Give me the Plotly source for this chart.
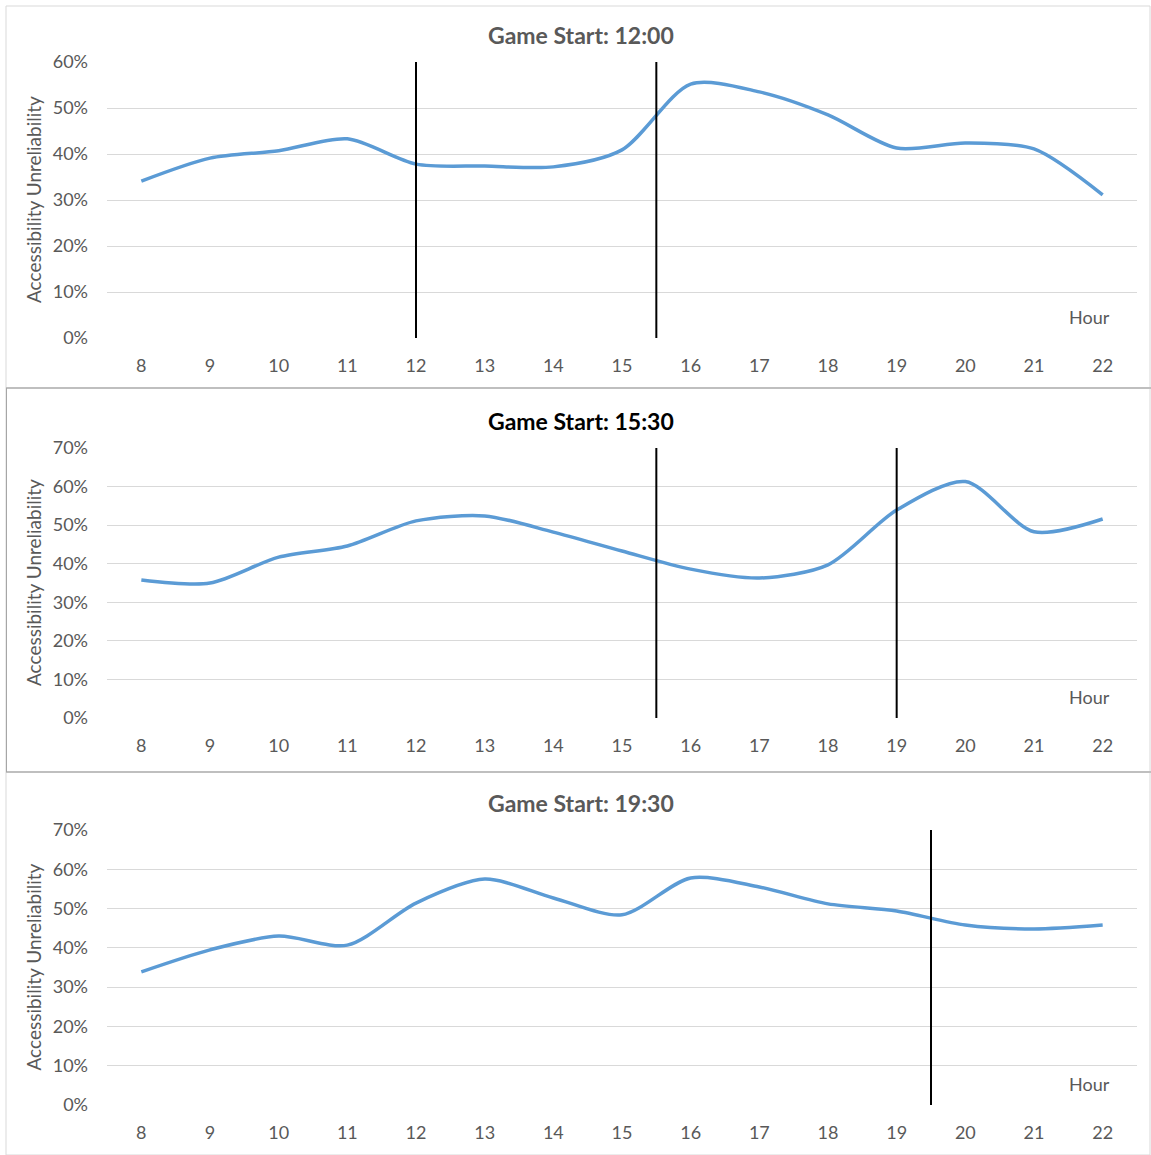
import plotly.graph_objects as go

hours = list(range(8, 23))
hour_labels = [str(h) for h in hours]

titles = ["Game Start: 12:00", "Game Start: 15:30", "Game Start: 19:30"]
title_colors = ["#595959", "#000000", "#595959"]

unrel_1200 = [34.1, 39.1, 40.7, 43.3, 37.8, 37.4, 37.2, 40.9, 55.2, 53.5, 48.5, 41.3, 42.4, 41.1, 31.1]
unrel_1530 = [35.8, 35.0, 41.7, 44.6, 51.1, 52.4, 48.2, 43.3, 38.6, 36.3, 39.7, 53.9, 61.3, 48.3, 51.6]
unrel_1930 = [33.9, 39.5, 43.0, 40.7, 51.4, 57.5, 52.7, 48.4, 57.8, 55.5, 51.2, 49.4, 45.8, 44.8, 45.8]

vlines_1200 = [12, 15.5]
vlines_1530 = [15.5, 19]
vlines_1930 = [19.5]

y_max = [60, 70, 70]

series = [unrel_1200, unrel_1530, unrel_1930]
vlines = [vlines_1200, vlines_1530, vlines_1930]

W, H = 1151, 1155
plot_px = [(62, 338), (448, 718), (830, 1105)]
panel_px = [(6, 388), (388, 772), (772, 1155)]
x_left, x_right = 107, 1137

FONT = "Lato, 'Open Sans', sans-serif"


def fy(p):
    return 1 - p / H


def fx(p):
    return p / W


fig = go.Figure()
shapes = []
annotations = []
axis_font = dict(family=FONT, size=18, color="#595959")

for i in range(3):
    n = i + 1
    xa = "x" if n == 1 else f"x{n}"
    ya = "y" if n == 1 else f"y{n}"
    fig.add_trace(go.Scatter(
        x=hours, y=[v / 100 for v in series[i]], mode="lines",
        line=dict(color="#5b9bd5", width=3.5, shape="spline", smoothing=0.8),
        xaxis=xa, yaxis=ya, showlegend=False, hoverinfo="x+y"))
    top, bot = plot_px[i]
    fig.layout[f"xaxis{'' if n == 1 else n}"] = dict(
        domain=[fx(x_left), fx(x_right)], anchor=ya, range=[7.5, 22.5],
        tickvals=hours, ticktext=hour_labels, showgrid=False, zeroline=False,
        showline=False, ticks="", tickfont=axis_font, ticklabelstandoff=15,
        fixedrange=True, automargin=False)
    fig.layout[f"yaxis{'' if n == 1 else n}"] = dict(
        domain=[fy(bot), fy(top)], anchor=xa, range=[0, y_max[i] / 100],
        dtick=0.1, tickformat=".0%", showgrid=True, gridcolor="#d9d9d9",
        gridwidth=1, zeroline=False, showline=False, ticks="",
        tickfont=axis_font, ticklabelstandoff=18, fixedrange=True,
        automargin=False)
    for v in vlines[i]:
        shapes.append(dict(type="line", xref=xa, yref=f"{ya} domain",
                           x0=v, x1=v, y0=0, y1=1,
                           line=dict(color="#000000", width=2)))
    pt, pb = panel_px[i]
    shapes.append(dict(type="rect", xref="paper", yref="paper",
                       x0=fx(6), x1=fx(1150), y0=fy(pb), y1=fy(pt),
                       line=dict(color="#d9d9d9", width=1), layer="below"))
    annotations.append(dict(text=f"<b>{titles[i]}</b>", xref="paper", yref="paper",
                            x=fx(581), y=fy(top - 27), xanchor="center", yanchor="middle",
                            showarrow=False,
                            font=dict(family=FONT, size=23, color=title_colors[i])))
    annotations.append(dict(text="Accessibility Unreliability", xref="paper", yref="paper",
                            x=fx(33), y=fy((top + bot) / 2), textangle=-90,
                            xanchor="center", yanchor="middle", showarrow=False,
                            font=dict(family=FONT, size=19, color="#595959")))
    annotations.append(dict(text="Hour", xref="paper", yref="paper",
                            x=fx(1089), y=fy(bot - 21), xanchor="center", yanchor="middle",
                            showarrow=False,
                            font=dict(family=FONT, size=18, color="#595959")))

for sep in (388, 772):
    shapes.append(dict(type="line", xref="paper", yref="paper",
                       x0=fx(6), x1=1, y0=fy(sep), y1=fy(sep),
                       line=dict(color="#bfbfbf", width=2)))
shapes.append(dict(type="line", xref="paper", yref="paper",
                   x0=fx(6.5), x1=fx(6.5), y0=fy(772), y1=fy(388),
                   line=dict(color="#a6a6a6", width=1)))

fig.update_layout(width=W, height=H, margin=dict(l=0, r=0, t=0, b=0, pad=0),
                  paper_bgcolor="white", plot_bgcolor="white",
                  shapes=shapes, annotations=annotations)

post = (
    "document.documentElement.style.margin='0';"
    "document.documentElement.style.overflow='hidden';"
    "document.body.style.margin='0';"
    "document.body.style.overflow='hidden';"
    "var d=document.getElementById('{plot_id}');"
    "d.style.position='fixed';d.style.top='0px';d.style.left='0px';"
)

fig.write_html("out.html", config={"displayModeBar": False}, post_script=post)
